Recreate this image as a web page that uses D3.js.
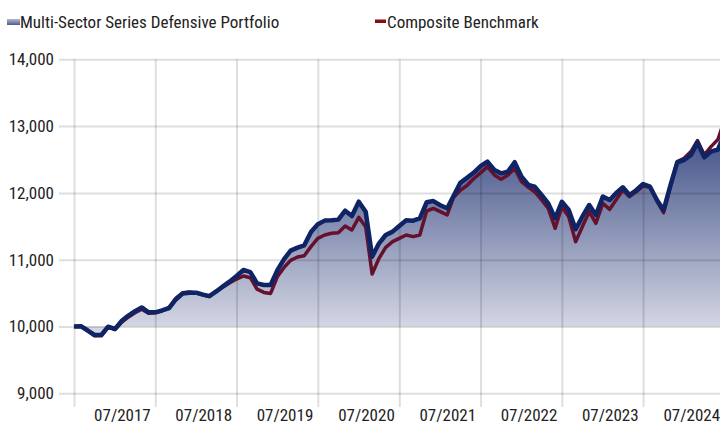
<!DOCTYPE html>
<html>
<head>
<meta charset="utf-8">
<script src="https://cdn.jsdelivr.net/npm/d3@7"></script>
<style>
  body { margin: 0; background: #fff; }
  svg text { font-family: "Liberation Sans Narrow", "Roboto Condensed", "DejaVu Sans Condensed", sans-serif; fill: #222; }
</style>
</head>
<body>
<div id="chart"></div>
<script>
const seriesNames = ["Multi-Sector Series Defensive Portfolio", "Composite Benchmark"];
const firstMonth = "07/2016";

// growth of 10,000, monthly from 07/2016 to 07/2024
const portfolio = [
  10000, 10005, 9940, 9873, 9875, 9997, 9963, 10085, 10160, 10230, 10285, 10212,
  10212, 10240, 10275, 10405, 10495, 10506, 10506, 10478, 10455, 10525, 10600, 10675,
  10756, 10846, 10815, 10645, 10621, 10621, 10846, 11015, 11135, 11180, 11215, 11420,
  11530, 11585, 11590, 11600, 11734, 11654, 11868, 11719, 11045, 11245, 11370, 11420,
  11505, 11590, 11584, 11619, 11860, 11878, 11815, 11770, 11950, 12150, 12225, 12305,
  12400, 12468, 12343, 12293, 12318, 12460, 12243, 12118, 12093, 11968, 11844, 11619,
  11868, 11744, 11455, 11644, 11819, 11669, 11944, 11894, 11994, 12084, 11968, 12043,
  12133, 12093, 11894, 11744, 12118, 12453, 12493, 12568, 12753, 12533, 12618, 12650,
  12880
];
const benchmark = [
  10000, 10000, 9935, 9860, 9860, 9990, 9955, 10065, 10140, 10205, 10260, 10200,
  10205, 10240, 10285, 10420, 10505, 10515, 10500, 10470, 10450, 10530, 10590, 10655,
  10710, 10756, 10730, 10560, 10510, 10495, 10750, 10890, 10990, 11040, 11060, 11200,
  11320, 11370, 11395, 11405, 11505, 11445, 11634, 11494, 10786, 11021, 11185, 11270,
  11320, 11370, 11345, 11370, 11729, 11768, 11720, 11669, 11930, 12040, 12110, 12215,
  12300, 12393, 12268, 12203, 12268, 12368, 12168, 12084, 12018, 11894, 11769, 11470,
  11794, 11644, 11270, 11494, 11719, 11545, 11844, 11754, 11894, 12043, 11944, 12018,
  12103, 12084, 11878, 11704, 12093, 12468, 12518, 12618, 12783, 12568, 12693, 12800,
  13100
];
const yTicks = [9000, 10000, 11000, 12000, 13000, 14000];
const xTickLabels = ["07/2017", "07/2018", "07/2019", "07/2020", "07/2021", "07/2022", "07/2023", "07/2024"];

const width = 720, height = 424;
const parseMonth = d3.timeParse("%m/%Y");
const start = parseMonth(firstMonth);
const data = portfolio.map((v, i) => ({date: d3.timeMonth.offset(start, i), fund: v, bench: benchmark[i]}));

const svg = d3.select("#chart").append("svg")
  .attr("width", width)
  .attr("height", height);

const x = d3.scaleTime()
  .domain([start, d3.timeMonth.offset(start, portfolio.length - 1)])
  .range([74, 724.6]);
const y = d3.scaleLinear()
  .domain([9000, 14000])
  .range([393.3, 59.3]);

const defs = svg.append("defs");
const grad = defs.append("linearGradient")
  .attr("id", "areaGrad")
  .attr("gradientUnits", "userSpaceOnUse")
  .attr("x1", 0).attr("x2", 0)
  .attr("y1", y(13000)).attr("y2", y(10000));
grad.append("stop").attr("offset", 0).attr("stop-color", "#3c4c84");
grad.append("stop").attr("offset", 1).attr("stop-color", "#d3d6e3");

const legGrad = defs.append("linearGradient")
  .attr("id", "legGrad")
  .attr("x1", 0).attr("x2", 0).attr("y1", 0).attr("y2", 1);
legGrad.append("stop").attr("offset", 0).attr("stop-color", "#b4bad0");
legGrad.append("stop").attr("offset", 1).attr("stop-color", "#4b5b8f");

// area under the portfolio, down to the starting 10,000
svg.append("path")
  .datum(data)
  .attr("fill", "url(#areaGrad)")
  .attr("d", d3.area().x(d => x(d.date)).y0(y(10000)).y1(d => y(d.fund)));

// grid / axes
const yAxis = svg.append("g")
  .attr("transform", "translate(59,0)")
  .call(d3.axisLeft(y).tickValues(yTicks).tickSize(-(width - 59)).tickPadding(5).tickFormat(d3.format(",")));
const xTickDates = [start].concat(xTickLabels.map(parseMonth));
const xAxis = svg.append("g")
  .attr("transform", "translate(0,407)")
  .call(d3.axisBottom(x).tickValues(xTickDates).tickSize(-(407 - 59.3)).tickPadding(1.5)
    .tickFormat(d => d.getTime() === start.getTime() ? "" : d3.timeFormat("%m/%Y")(d)));

[yAxis, xAxis].forEach(g => {
  g.select(".domain").remove();
  g.selectAll(".tick line").attr("stroke", "#000").attr("stroke-opacity", 0.13).attr("stroke-width", 2);
  g.selectAll(".tick text").style("font-size", "17px").attr("fill", "#222");
});
xAxis.selectAll(".tick text").attr("text-anchor", "end").attr("dx", -5);

// lines
const line = key => d3.line().x(d => x(d.date)).y(d => y(d[key]));
svg.append("path")
  .datum(data)
  .attr("fill", "none")
  .attr("stroke", "#65102c")
  .attr("stroke-width", 3.5)
  .attr("stroke-linejoin", "round")
  .attr("d", line("bench"));
svg.append("path")
  .datum(data)
  .attr("fill", "none")
  .attr("stroke", "#0f2464")
  .attr("stroke-width", 4.5)
  .attr("stroke-linejoin", "round")
  .attr("d", line("fund"));

// legend
svg.append("rect")
  .attr("x", 7).attr("y", 19).attr("width", 13).attr("height", 6)
  .attr("fill", "url(#legGrad)");
svg.append("text")
  .attr("x", 20).attr("y", 27.5)
  .style("font-size", "17px")
  .text(seriesNames[0]);
svg.append("rect")
  .attr("x", 375).attr("y", 19.5).attr("width", 11).attr("height", 3.5)
  .attr("fill", "#8b0a14");
svg.append("text")
  .attr("x", 387).attr("y", 27.5)
  .style("font-size", "17px")
  .text(seriesNames[1]);
</script>
</body>
</html>
